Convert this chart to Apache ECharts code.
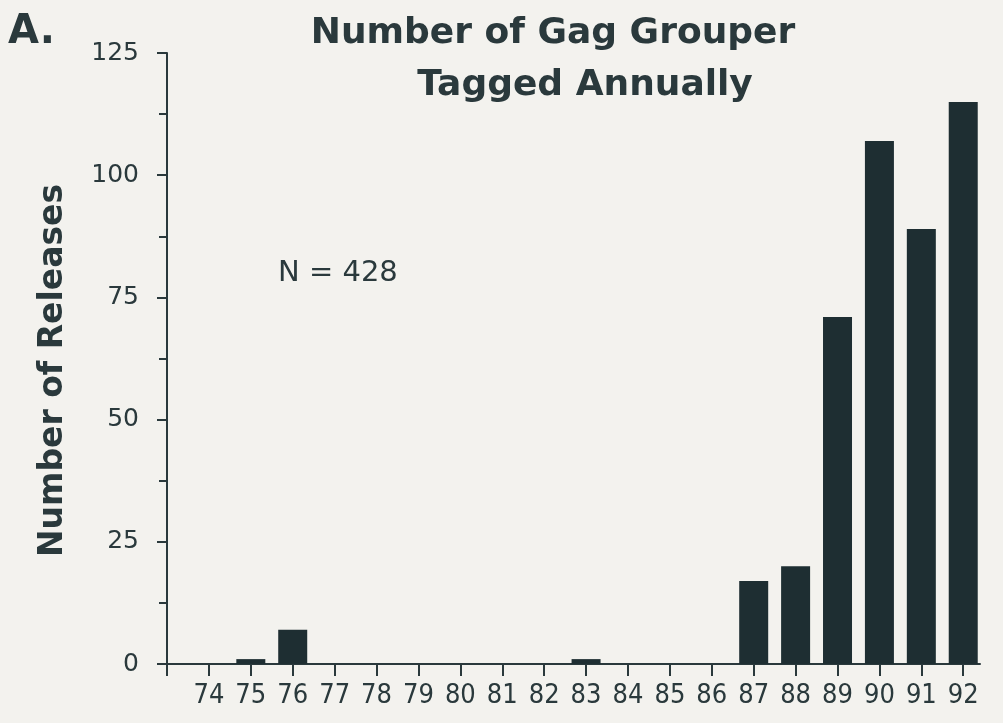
<!DOCTYPE html>
<html>
<head>
<meta charset="utf-8">
<title>Number of Gag Grouper Tagged Annually</title>
<script src="https://cdn.jsdelivr.net/npm/echarts@6/dist/echarts.min.js"></script>
<style>
    html, body { margin: 0; padding: 0; background: #f3f2ee; }
    #chart { width: 1003px; height: 723px; }
</style>
</head>
<body>
<div id="chart"></div>
<script>
(function () {

    // release year (19xx) and number of fish tagged that year
    var years = [74, 75, 76, 77, 78, 79, 80, 81, 82, 83, 84, 85, 86, 87, 88, 89, 90, 91, 92];
    var releases = [0, 1, 7, 0, 0, 0, 0, 0, 0, 1, 0, 0, 0, 17, 20, 71, 107, 89, 115];
    var yTicks = [0, 25, 50, 75, 100, 125];
    var totalLabel = 'N = 428';

    var ink = '#2a393c';
    var barColor = '#1e2e32';
    var font = "'DejaVu Sans', sans-serif";
    var narrow = "'Liberation Sans Narrow', 'DejaVu Sans Condensed', 'DejaVu Sans', sans-serif";

    var xTicks = [73].concat(years);

    var option = {
        backgroundColor: '#f3f2ee',
        animation: false,
        textStyle: { fontFamily: font, color: ink },
        graphic: [
            {
                type: 'text', left: 8, top: 13,
                style: { text: 'A.', fill: ink, font: 'bold 40px ' + font }
            },
            {
                type: 'text', x: 553, y: 34,
                style: {
                    text: 'Number of Gag Grouper', fill: ink, font: 'bold 36px ' + font,
                    textAlign: 'center', textVerticalAlign: 'middle'
                }
            },
            {
                type: 'text', x: 585, y: 86,
                style: {
                    text: 'Tagged Annually', fill: ink, font: 'bold 36px ' + font,
                    textAlign: 'center', textVerticalAlign: 'middle'
                }
            },
            {
                type: 'text', x: 278, y: 273,
                style: {
                    text: totalLabel, fill: ink, font: '29px ' + font,
                    textAlign: 'left', textVerticalAlign: 'middle'
                }
            }
        ],
        grid: { left: 167, right: 23, top: 53, bottom: 59 },
        xAxis: {
            type: 'value',
            min: 73,
            max: 92.4,
            splitLine: { show: false },
            axisLine: { show: true, lineStyle: { color: ink, width: 2 } },
            axisTick: {
                show: true, length: 12, customValues: xTicks,
                lineStyle: { color: ink, width: 2 }
            },
            axisLabel: {
                customValues: years, margin: 18,
                color: ink, fontSize: 27, fontFamily: narrow
            }
        },
        yAxis: {
            type: 'value',
            min: 0,
            max: 125,
            interval: 25,
            name: 'Number of Releases',
            nameLocation: 'middle',
            nameGap: 97,
            nameTextStyle: {
                color: ink, fontSize: 33, fontWeight: 'bold', fontFamily: font,
                padding: [0, 24, 0, 0]
            },
            splitLine: { show: false },
            axisLine: { show: true, lineStyle: { color: ink, width: 2 } },
            axisTick: { show: true, length: 10, lineStyle: { color: ink, width: 2 } },
            minorTick: { show: true, splitNumber: 2, length: 8, lineStyle: { color: ink, width: 2 } },
            axisLabel: {
                margin: 28, color: ink, fontSize: 25, fontFamily: font,
                customValues: yTicks
            }
        },
        series: [{
            type: 'bar',
            barWidth: 29,
            clip: false,
            itemStyle: { color: barColor },
            data: years.map(function (y, i) { return [y, releases[i]]; })
        }]
    };

    var myChart = echarts.init(document.getElementById('chart'));
    myChart.setOption(option);

    window.addEventListener('resize', myChart.resize);

})();
</script>
</body>
</html>
